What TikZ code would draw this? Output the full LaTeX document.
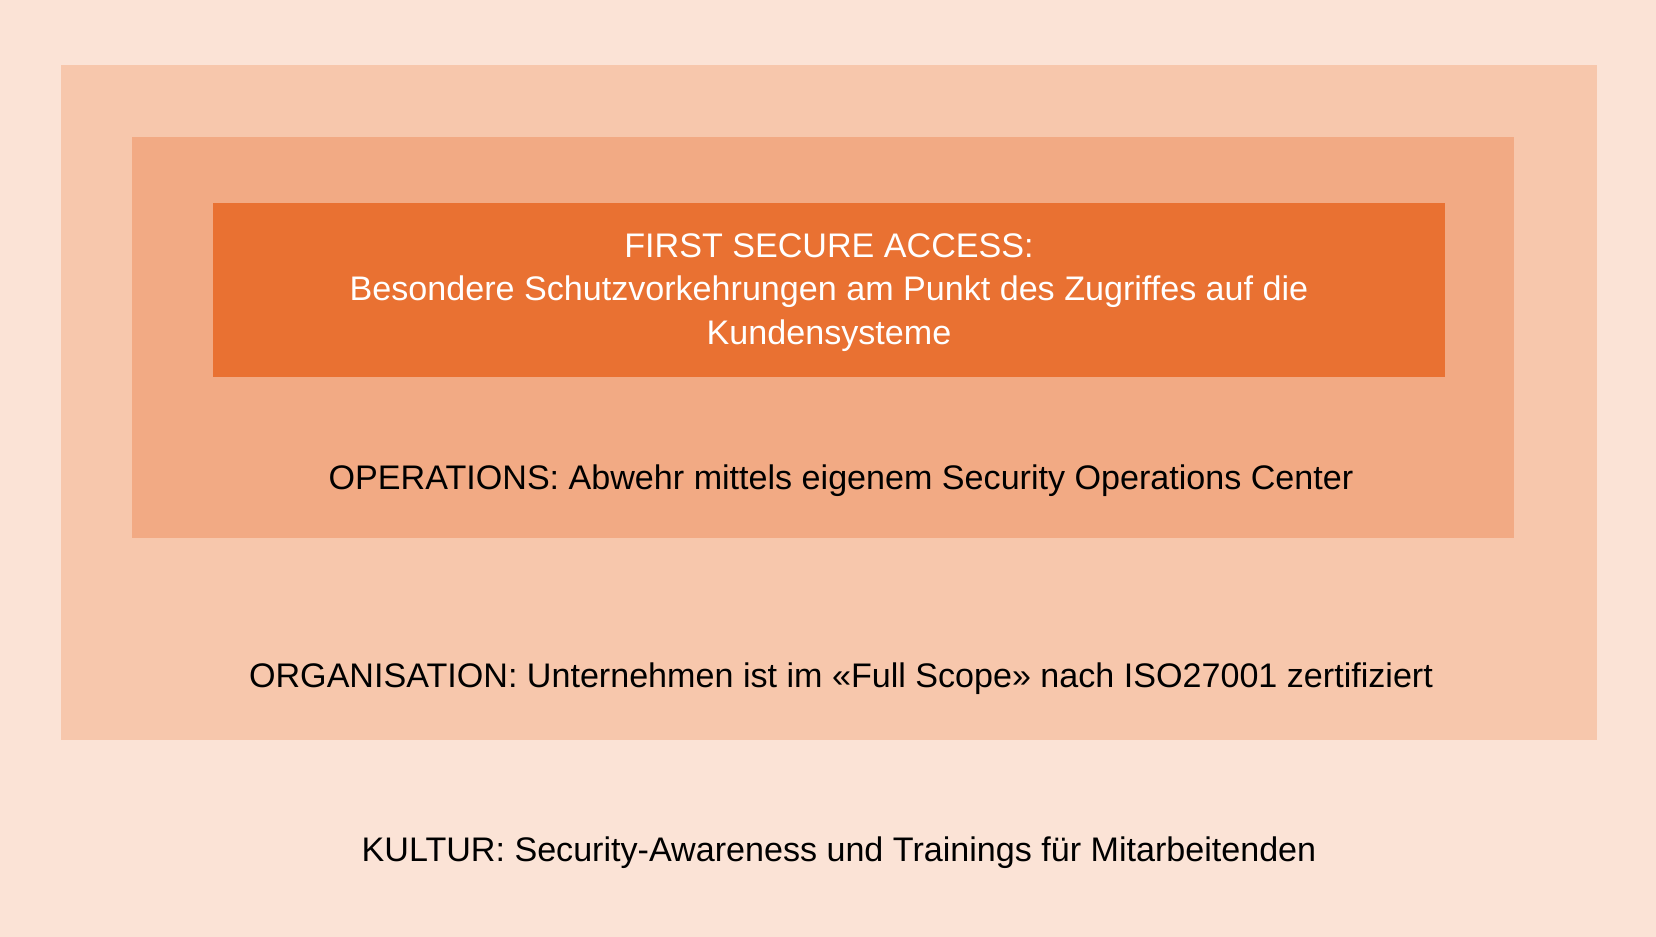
\documentclass[tikz,border=0pt]{standalone}
\usepackage{fontspec}
\setmainfont{Liberation Sans}
\usepackage{xcolor}
\usepackage{tikz}
\usetikzlibrary{positioning}
\definecolor{kulturbg}{HTML}{FBE3D6}
\definecolor{orgbg}{HTML}{F7C7AC}
\definecolor{opsbg}{HTML}{F2AA84}
\definecolor{fsabg}{HTML}{E97132}
\tikzset{
  schicht/.style = {rectangle, inner sep=0pt, outer sep=0pt},% eine Schicht
  label_s/.style = {align=center, inner sep=0pt, anchor=base,
    font=\fontsize{17.05}{21.75}\selectfont},% Beschriftung, schwarz
  label_w/.style = {label_s, white}% Beschriftung, weiss
}
\begin{document}
\begin{tikzpicture}[x=0.5pt,y=-0.5pt]
\node [schicht, fill=kulturbg, minimum width=828pt, minimum height=468.5pt] (kultur) at (828,468.5) {};
\node [schicht, fill=orgbg, minimum width=768pt, minimum height=337.5pt] (org) at (829,402.5) {};
\node [schicht, fill=opsbg, minimum width=691pt, minimum height=200.5pt] (ops) at (823,337.5) {};
\node [schicht, fill=fsabg, minimum width=616pt, minimum height=87pt] (fsa) at (829,290) {};

% base = Grundlinie der letzten Zeile
\node [label_w] (t_fsa) at (829,344) {FIRST SECURE ACCESS:\\Besondere Schutzvorkehrungen am Punkt des Zugriffes auf die\\Kundensysteme};
\node [label_s] (t_ops) at (841,489) {OPERATIONS: Abwehr mittels eigenem Security Operations Center};
\node [label_s] (t_org) at (841,687) {ORGANISATION: Unternehmen ist im «Full Scope» nach ISO27001 zertifiziert};
\node [label_s] (t_kultur) at (839,861) {KULTUR: Security-Awareness und Trainings für Mitarbeitenden};
\end{tikzpicture}
\end{document}
